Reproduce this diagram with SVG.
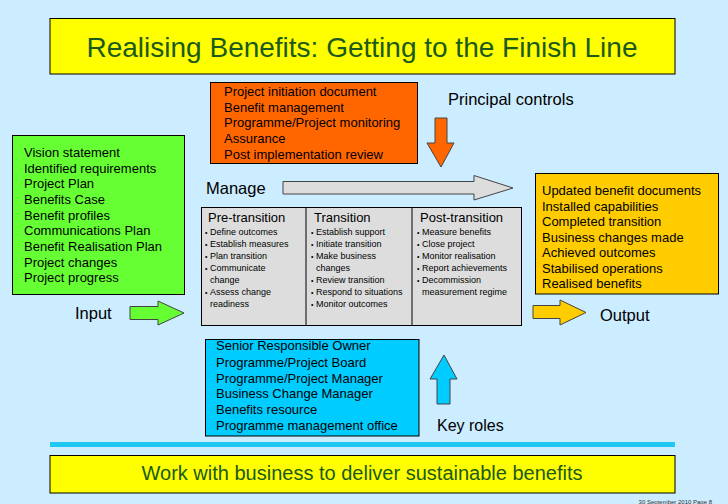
<svg xmlns="http://www.w3.org/2000/svg" width="728" height="504" viewBox="0 0 728 504">
<style>
text{font-family:"Liberation Sans",Arial,sans-serif;fill:#000}
.box{stroke:#000;stroke-width:1}
.t12{font-size:13px}
.t14{font-size:16.5px}
.hd{font-size:13px}
.b{font-size:9px}
.dot{font-size:7px}
.title{font-size:28px;fill:#1a5a1a}
.sub{font-size:20px;fill:#1a5a1a}
.arr{stroke:#444;stroke-width:1}
</style>
<rect width="728" height="504" fill="#CCECFF"/>
<g id="title">
<rect class="box" x="50" y="18.5" width="625" height="55.5" fill="#FFFF00"/>
<text class="title" x="362" y="57" text-anchor="middle">Realising Benefits: Getting to the Finish Line</text>
</g>
<g id="inputs">
<rect class="box" x="12.5" y="135.5" width="172" height="159" fill="#66FF33"/>
<text class="t12" x="24" y="157">Vision statement</text>
<text class="t12" x="24" y="172.5">Identified requirements</text>
<text class="t12" x="24" y="188">Project Plan</text>
<text class="t12" x="24" y="204">Benefits Case</text>
<text class="t12" x="24" y="219.5">Benefit profiles</text>
<text class="t12" x="24" y="235">Communications Plan</text>
<text class="t12" x="24" y="251">Benefit Realisation Plan</text>
<text class="t12" x="24" y="266.5">Project changes</text>
<text class="t12" x="24" y="282">Project progress</text>
</g>
<g id="controls">
<rect class="box" x="210.5" y="82.5" width="207" height="81" fill="#FF6600"/>
<text class="t12" x="224" y="95.5">Project initiation document</text>
<text class="t12" x="224" y="111.5">Benefit management</text>
<text class="t12" x="224" y="127">Programme/Project monitoring</text>
<text class="t12" x="224" y="143">Assurance</text>
<text class="t12" x="224" y="158.5">Post implementation review</text>
</g>
<g id="labels">
<text class="t14" x="448" y="104.5">Principal controls</text>
<text class="t14" x="206" y="194">Manage</text>
<text class="t14" x="75" y="319">Input</text>
<text class="t14" x="600" y="320.5">Output</text>
<text class="t14" x="437" y="431" style="font-size:16px">Key roles</text>
</g>
<g id="process">
<rect class="box" x="201.5" y="207.5" width="320" height="118" fill="#DDDDDD"/>
<line x1="306" y1="207.5" x2="306" y2="325.5" stroke="#000"/>
<line x1="412" y1="207.5" x2="412" y2="325.5" stroke="#000"/>
<text class="hd" x="208" y="222">Pre-transition</text>
<text class="hd" x="314" y="222">Transition</text>
<text class="hd" x="420" y="222">Post-transition</text>
<g class="b">
<text class="dot" x="205" y="234.5">•</text><text class="b" x="210" y="235">Define outcomes</text>
<text class="dot" x="205" y="246.5">•</text><text class="b" x="210" y="247">Establish measures</text>
<text class="dot" x="205" y="258.5">•</text><text class="b" x="210" y="259">Plan transition</text>
<text class="dot" x="205" y="270.5">•</text><text class="b" x="210" y="271">Communicate</text>
<text class="b" x="210" y="283">change</text>
<text class="dot" x="205" y="294.5">•</text><text class="b" x="210" y="295">Assess change</text>
<text class="b" x="210" y="307">readiness</text>
<text class="dot" x="311" y="234.5">•</text><text class="b" x="316" y="235">Establish support</text>
<text class="dot" x="311" y="246.5">•</text><text class="b" x="316" y="247">Initiate transition</text>
<text class="dot" x="311" y="258.5">•</text><text class="b" x="316" y="259">Make business</text>
<text class="b" x="316" y="271">changes</text>
<text class="dot" x="311" y="282.5">•</text><text class="b" x="316" y="283">Review transition</text>
<text class="dot" x="311" y="294.5">•</text><text class="b" x="316" y="295">Respond to situations</text>
<text class="dot" x="311" y="306.5">•</text><text class="b" x="316" y="307">Monitor outcomes</text>
<text class="dot" x="417" y="234.5">•</text><text class="b" x="422" y="235">Measure benefits</text>
<text class="dot" x="417" y="246.5">•</text><text class="b" x="422" y="247">Close project</text>
<text class="dot" x="417" y="258.5">•</text><text class="b" x="422" y="259">Monitor realisation</text>
<text class="dot" x="417" y="270.5">•</text><text class="b" x="422" y="271">Report achievements</text>
<text class="dot" x="417" y="282.5">•</text><text class="b" x="422" y="283">Decommission</text>
<text class="b" x="422" y="295">measurement regime</text>
</g>
</g>
<g id="outputs">
<rect class="box" x="535.5" y="173.5" width="183" height="120.5" fill="#FFCC00"/>
<text class="t12" x="542" y="195">Updated benefit documents</text>
<text class="t12" x="542" y="210.5">Installed capabilities</text>
<text class="t12" x="542" y="226">Completed transition</text>
<text class="t12" x="542" y="241.5">Business changes made</text>
<text class="t12" x="542" y="257">Achieved outcomes</text>
<text class="t12" x="542" y="272.5">Stabilised operations</text>
<text class="t12" x="542" y="288">Realised benefits</text>
</g>
<g id="roles">
<rect class="box" x="205.5" y="339.5" width="213.5" height="96.5" fill="#00CCFF"/>
<text class="t12" x="216" y="350">Senior Responsible Owner</text>
<text class="t12" x="216" y="367">Programme/Project Board</text>
<text class="t12" x="216" y="382.5">Programme/Project Manager</text>
<text class="t12" x="216" y="398">Business Change Manager</text>
<text class="t12" x="216" y="414">Benefits resource</text>
<text class="t12" x="216" y="429.5">Programme management office</text>
</g>
<g id="connectors">
<polygon class="arr" points="130,306.5 158,306.5 158,301 184,313 158,325 158,319.5 130,319.5" fill="#66FF33" stroke="#2a7a10"/>
<polygon class="arr" points="533,305.5 560,305.5 560,300 586,312.5 560,325 560,318.5 533,318.5" fill="#FFCC00" stroke="#7a6000"/>
<polygon class="arr" points="283,181.5 474,181.5 474,175.5 513,188 474,200 474,194 283,194" fill="#DDDDDD" stroke="#555"/>
<polygon class="arr" points="435,118 447,118 447,143 454,143 441,167 427,143 435,143" fill="#FF6600" stroke="#883300"/>
<polygon class="arr" points="437,404 450,404 450,379 457,379 444,355 430,379 437,379" fill="#00CCFF" stroke="#004466"/>
</g>
<g id="footer">
<rect x="50" y="442" width="625" height="5" fill="#1EC8F0"/>
<rect class="box" x="50" y="455.5" width="625" height="37.5" fill="#FFFF00"/>
<text class="sub" x="362" y="480" text-anchor="middle">Work with business to deliver sustainable benefits</text>
<text x="712" y="503.5" text-anchor="end" style="font-size:6px;fill:#333">30 September 2010 Page  8</text>
</g>
</svg>
